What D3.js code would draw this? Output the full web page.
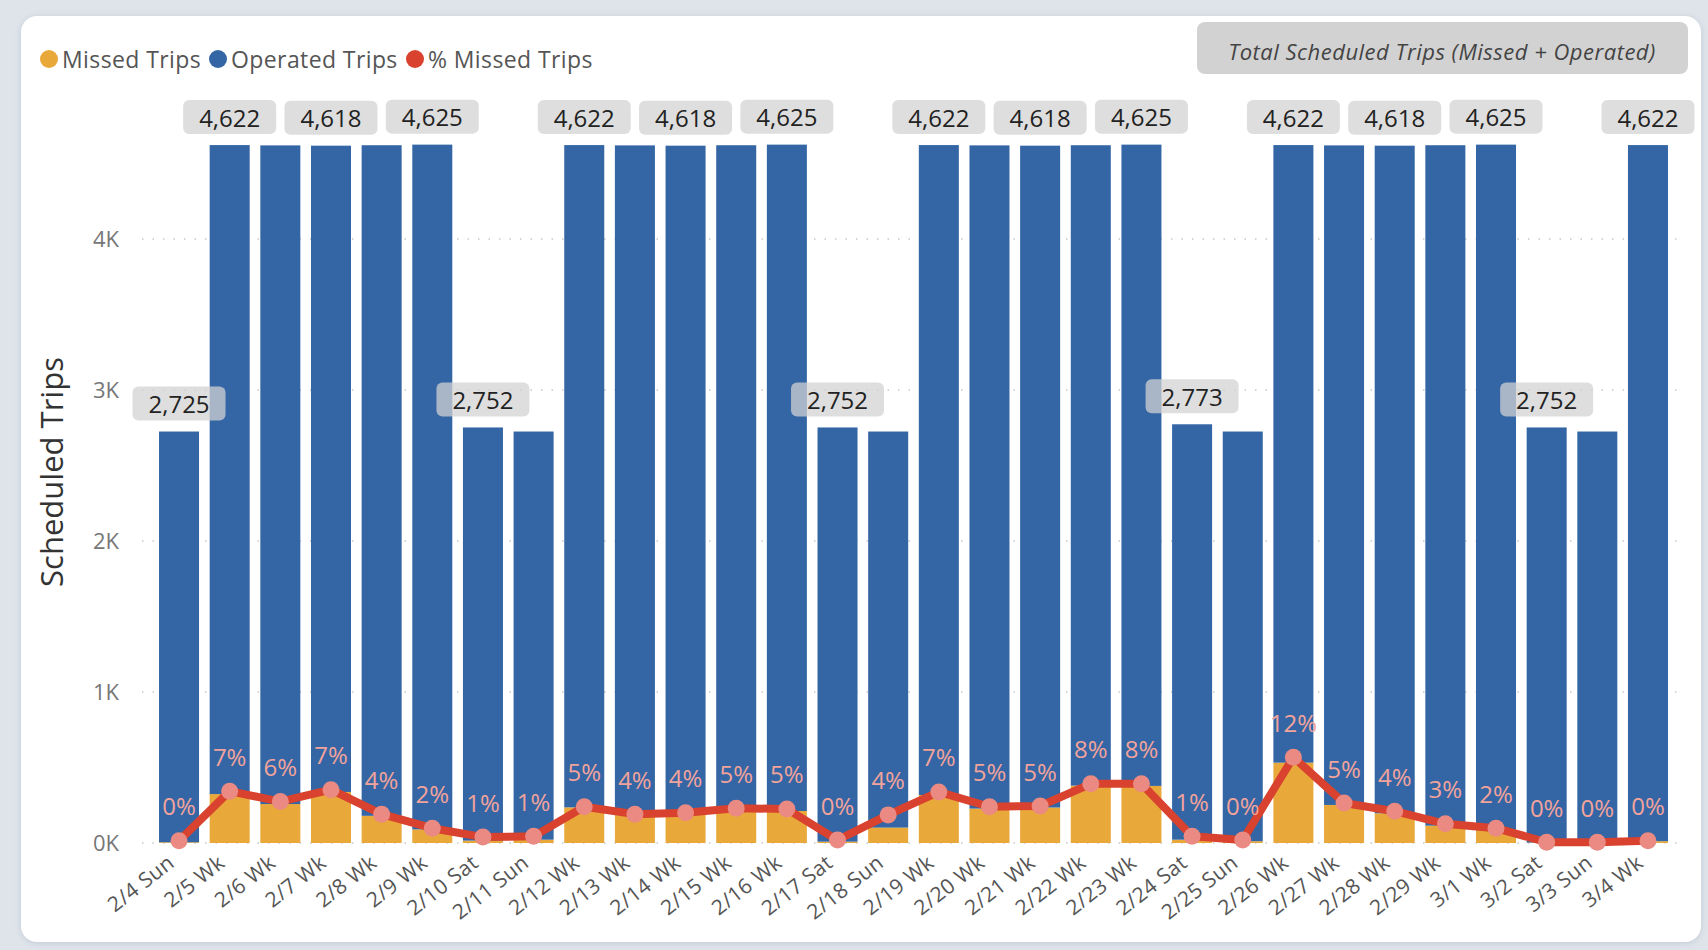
<!DOCTYPE html>
<html>
<head>
<meta charset="utf-8">
<script src="https://cdn.jsdelivr.net/npm/d3@7"></script>
<style>
  html, body { margin: 0; padding: 0; background: #dfe4eb; }
  svg { display: block; font-family: "Open Sans", "Noto Sans", sans-serif; }
</style>
</head>
<body>
<svg id="chart" width="1708" height="950"></svg>
<script>
// ---------- data ----------
const categories = ["2/4 Sun","2/5 Wk","2/6 Wk","2/7 Wk","2/8 Wk","2/9 Wk","2/10 Sat","2/11 Sun",
  "2/12 Wk","2/13 Wk","2/14 Wk","2/15 Wk","2/16 Wk","2/17 Sat","2/18 Sun","2/19 Wk","2/20 Wk",
  "2/21 Wk","2/22 Wk","2/23 Wk","2/24 Sat","2/25 Sun","2/26 Wk","2/27 Wk","2/28 Wk","2/29 Wk",
  "3/1 Wk","3/2 Sat","3/3 Sun","3/4 Wk"];
const missedTrips = [5,324,258,338,180,90,16,22,236,185,192,218,212,9,102,318,228,235,380,378,
  22,12,532,252,197,115,88,3,3,12];
const operatedTrips = [2720,4298,4362,4280,4441,4535,2736,2703,4386,4435,4426,4403,4413,2743,2623,
  4304,4392,4383,4241,4247,2751,2713,4090,4368,4421,4506,4537,2749,2722,4610];
const pctMissed = [0.003,0.070,0.056,0.072,0.039,0.020,0.008,0.009,0.049,0.039,0.041,0.047,0.046,
  0.004,0.038,0.069,0.049,0.050,0.080,0.080,0.009,0.004,0.116,0.054,0.043,0.026,0.020,0.001,0.001,0.003];
const yTicks = [0, 1000, 2000, 3000, 4000];
const legendItems = ["Missed Trips", "Operated Trips", "% Missed Trips"];
const titleText = "Total Scheduled Trips (Missed + Operated)";
const yTitle = "Scheduled Trips";

// ---------- setup ----------
const W = 1708, H = 950;
const colors = { missed: "#e9a83a", operated: "#3466a5", pct: "#d8422f", marker: "#ea8a82", pctLabel: "#f2a39b" };
const svg = d3.select("#chart");

const defs = svg.append("defs");
const f = defs.append("filter").attr("id", "shadow").attr("x", "-5%").attr("y", "-5%").attr("width", "110%").attr("height", "110%");
f.append("feDropShadow").attr("dx", 0).attr("dy", 1).attr("stdDeviation", 3).attr("flood-color", "#8a96a8").attr("flood-opacity", 0.35);

svg.append("rect").attr("width", W).attr("height", H).attr("fill", "#dfe4eb");
svg.append("rect").attr("x", 21).attr("y", 16).attr("width", 1680).attr("height", 926)
  .attr("rx", 16).attr("fill", "#ffffff").attr("filter", "url(#shadow)");

const data = categories.map((c, i) => ({
  cat: c, missed: missedTrips[i], operated: operatedTrips[i], pct: pctMissed[i],
  total: missedTrips[i] + operatedTrips[i]
}));

const x = d3.scaleBand().domain(categories).range([153.7, 1673.3]).paddingInner(0.21).paddingOuter(0.105);
const y = d3.scaleLinear().domain([0, 5000]).range([843, 88]);
const yPct = d3.scaleLinear().domain([0, 0.1]).range([843, 769]);

// gridlines + y ticks
const yAxis = d3.axisLeft(y).tickValues(yTicks).tickSize(0).tickPadding(0)
  .tickFormat(d => d3.format(".0f")(d / 1000) + "K");
const gy = svg.append("g").attr("transform", "translate(119,0)").call(yAxis);
gy.select(".domain").remove();
gy.selectAll("text").attr("font-size", 22).attr("fill", "#777").attr("font-family", "\"Open Sans\", sans-serif");

svg.append("g").selectAll("line").data(yTicks).join("line")
  .attr("x1", 142).attr("x2", 1680)
  .attr("y1", d => y(d)).attr("y2", d => y(d))
  .attr("stroke", "#c8c8c8").attr("stroke-width", 1.5).attr("stroke-dasharray", "1.5,9");

// y title
svg.append("text").attr("transform", "translate(51,472) rotate(-90)")
  .attr("text-anchor", "middle").attr("dominant-baseline", "central")
  .attr("font-size", 31).attr("fill", "#333").text(yTitle);

// stacked bars
const stack = d3.stack().keys(["missed", "operated"]);
const series = stack(data);
svg.append("g").selectAll("g").data(series).join("g")
  .attr("fill", s => s.key === "missed" ? colors.missed : colors.operated)
  .selectAll("rect").data(s => s).join("rect")
  .attr("x", d => x(d.data.cat))
  .attr("width", x.bandwidth())
  .attr("y", d => y(d[1]))
  .attr("height", d => y(d[0]) - y(d[1]));

// x axis labels
const xAxis = d3.axisBottom(x).tickSize(0).tickPadding(0);
const gx = svg.append("g").attr("transform", "translate(-13,853)").call(xAxis);
gx.select(".domain").remove();
gx.selectAll("text")
  .attr("font-size", 21).attr("fill", "#555").attr("font-family", "\"Open Sans\", sans-serif")
  .attr("letter-spacing", "0.4px")
  .attr("text-anchor", "end").attr("dy", "0.75em").attr("dx", "0")
  .attr("transform", "rotate(-38)");

// line for % missed
const line = d3.line().x(d => x(d.cat) + x.bandwidth() / 2).y(d => yPct(d.pct));
svg.append("path").datum(data).attr("d", line)
  .attr("fill", "none").attr("stroke", colors.pct).attr("stroke-width", 8)
  .attr("stroke-linejoin", "round").attr("stroke-linecap", "round");
svg.append("g").selectAll("circle").data(data).join("circle")
  .attr("cx", d => x(d.cat) + x.bandwidth() / 2).attr("cy", d => yPct(d.pct))
  .attr("r", 8.5).attr("fill", colors.marker);

// pct labels
svg.append("g").selectAll("text").data(data).join("text")
  .attr("x", d => x(d.cat) + x.bandwidth() / 2).attr("y", d => yPct(d.pct) - 35)
  .attr("text-anchor", "middle").attr("dominant-baseline", "central")
  .attr("font-size", 24).attr("fill", colors.pctLabel)
  .text(d => d3.format(".0%")(d.pct));

// total labels with greedy collision avoidance
const boxW = 93, boxH = 34;
const shown = [];
data.forEach(d => {
  const cx = x(d.cat) + x.bandwidth() / 2;
  const cy = y(d.total) - 28;
  const b = { x0: cx - boxW / 2, x1: cx + boxW / 2, y0: cy - boxH / 2, y1: cy + boxH / 2, d, cx, cy };
  const clash = shown.some(s => b.x0 < s.x1 && b.x1 > s.x0 && b.y0 < s.y1 && b.y1 > s.y0);
  if (!clash) shown.push(b);
});
const lg = svg.append("g");
lg.selectAll("rect").data(shown).join("rect")
  .attr("x", b => b.x0).attr("y", b => b.y0).attr("width", boxW).attr("height", boxH)
  .attr("rx", 6).attr("fill", "rgb(210,210,210)").attr("fill-opacity", 0.74);
lg.selectAll("text").data(shown).join("text")
  .attr("x", b => b.cx).attr("y", b => b.cy)
  .attr("text-anchor", "middle").attr("dominant-baseline", "central")
  .attr("font-size", 24).attr("fill", "#222")
  .text(b => d3.format(",")(b.d.total));

// legend
const legendX = [49, 218, 415];
const legendColors = [colors.missed, colors.operated, colors.pct];
const leg = svg.append("g");
legendItems.forEach((t, i) => {
  leg.append("circle").attr("cx", legendX[i]).attr("cy", 59).attr("r", 9).attr("fill", legendColors[i]);
  leg.append("text").attr("x", legendX[i] + 13).attr("y", 59).attr("dominant-baseline", "central")
    .attr("font-size", 23).attr("letter-spacing", "0.4px").attr("fill", "#555").text(t);
});

// title box
svg.append("rect").attr("x", 1197).attr("y", 22).attr("width", 491).attr("height", 52)
  .attr("rx", 8).attr("fill", "#d2d2d2");
svg.append("text").attr("x", 1442).attr("y", 51).attr("text-anchor", "middle").attr("dominant-baseline", "central")
  .attr("font-size", 22).attr("letter-spacing", "0.5px").attr("font-style", "italic").attr("fill", "#444").text(titleText);
</script>
</body>
</html>
